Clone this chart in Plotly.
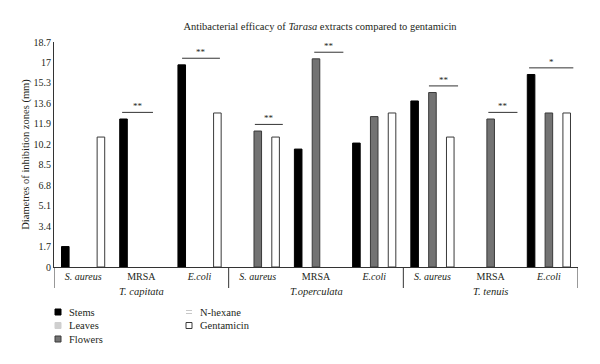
import plotly.graph_objects as go

# ---- data ----
species = ["T. capitata", "T.operculata", "T. tenuis"]
bacteria = ["S. aureus", "MRSA", "E.coli"]
stems = [1.7, 12.3, 16.8, 0, 9.8, 10.3, 13.8, 0, 16.0]
leaves = [0, 0, 0, 0, 0, 0, 0, 0, 0]
flowers = [0, 0, 0, 11.3, 17.3, 12.5, 14.5, 12.3, 12.8]
nhexane = [0, 0, 0, 0, 0, 0, 0, 0, 0]
gentamicin = [10.8, 0, 12.8, 10.8, 0, 12.8, 10.8, 0, 12.8]
sig_labels = ["", "**", "**", "**", "**", "", "**", "**", "*"]
sig_span = [None, (-0.33, 0.2), (-0.3, 0.35), (-0.05, 0.43), (-0.03, 0.47),
            None, (-0.06, 0.44), (-0.04, 0.46), (-0.34, 0.42)]
y_ticks = [0, 1.7, 3.4, 5.1, 6.8, 8.5, 10.2, 11.9, 13.6, 15.3, 17, 18.7]

FONT = "Liberation Serif"
TXT = "#231f20"
W, H = 600, 364
ML, MR, MT, MB = 54, 22, 42, 97
PW, PH = W - ML - MR, H - MT - MB


def px_x(p):
    return (p - ML) / PW


def px_y(p):
    return (H - MB - p) / PH


n = len(species) * len(bacteria)
xs = list(range(n))
tick_text = []
for s in species:
    for b in bacteria:
        tick_text.append(b if b == "MRSA" else f"<i>{b}</i>")

series = [
    ("Stems", stems, "#000000", "#000000"),
    ("Leaves", leaves, "#cfcfcf", "#cfcfcf"),
    ("Flowers", flowers, "#737373", "#3a3a3a"),
    ("N-hexane", nhexane, "#ffffff", "#c8c8c8"),
    ("Gentamicin", gentamicin, "#ffffff", "#3a3a3a"),
]

fig = go.Figure()
for name, vals, fill, line in series:
    fig.add_trace(go.Bar(x=xs, y=[v if v else None for v in vals], name=name,
                         marker=dict(color=fill, line=dict(color=line, width=1)),
                         showlegend=False, hovertemplate=name + ": %{y}<extra></extra>"))

# significance markers
for i, lab in enumerate(sig_labels):
    if not lab:
        continue
    top = max(stems[i], leaves[i], flowers[i], nhexane[i], gentamicin[i]) + 0.55
    x0, x1 = sig_span[i]
    fig.add_shape(type="line", x0=i + x0, x1=i + x1, y0=top, y1=top, xref="x", yref="y",
                  line=dict(color="#333333", width=1))
    fig.add_annotation(x=i + (x0 + x1) / 2, y=top, text=lab, showarrow=False, yanchor="bottom",
                       yshift=-1, font=dict(family=FONT, size=9, color=TXT))

# group dividers and labels
ng = len(bacteria)
for g in range(len(species) + 1):
    xv = g * ng - 0.5
    fig.add_shape(type="line", x0=xv, x1=xv, y0=0, y1=px_y(288), xref="x", yref="paper",
                  line=dict(color="#333333", width=1))
for g, s in enumerate(species):
    fig.add_annotation(x=g * ng + (ng - 1) / 2, y=px_y(291), xref="x", yref="paper", text=f"<i>{s}</i>",
                       showarrow=False, yanchor="middle", font=dict(family=FONT, size=10.5, color=TXT))

# legend (two columns, column-major)
legend_cols = [(58, 67, [0, 1, 2]), (189, 198, [3, 4])]
row_y = [312, 325.5, 339]
half = 3
for sx, tx, idxs in legend_cols:
    for r, k in enumerate(idxs):
        name, vals, fill, line = series[k]
        cy = row_y[r]
        if name == "N-hexane":
            for dy in (-1.5, 1.5):
                fig.add_shape(type="line", xref="paper", yref="paper",
                              x0=px_x(sx - half), x1=px_x(sx + half), y0=px_y(cy + dy), y1=px_y(cy + dy),
                              line=dict(color="#c8c8c8", width=1))
        else:
            fig.add_shape(type="rect", xref="paper", yref="paper",
                          x0=px_x(sx - half), x1=px_x(sx + half), y0=px_y(cy - half), y1=px_y(cy + half),
                          fillcolor=fill, line=dict(color=line, width=1))
        fig.add_annotation(x=px_x(tx), y=px_y(cy), xref="paper", yref="paper", text=name,
                           showarrow=False, xanchor="left", yanchor="middle",
                           font=dict(family=FONT, size=10.5, color=TXT))

fig.update_layout(
    width=W, height=H,
    margin=dict(l=ML, r=MR, t=MT, b=MB, autoexpand=False),
    paper_bgcolor="white", plot_bgcolor="white",
    font=dict(family=FONT, size=10, color=TXT),
    title=dict(text="Antibacterial efficacy of <i>Tarasa</i> extracts compared to gentamicin",
               x=320 / W, xanchor="center", y=1 - 26 / H, yanchor="middle",
               font=dict(family=FONT, size=10.5, color=TXT)),
    barmode="group", bargap=0.235, bargroupgap=0.15,
    showlegend=False,
)
fig.update_xaxes(range=[-0.5, n - 0.5], tickmode="array", tickvals=xs, ticktext=tick_text,
                 showline=True, linecolor="#333333", linewidth=1, ticks="", showgrid=False,
                 zeroline=False, tickfont=dict(family=FONT, size=10, color=TXT))
fig.update_yaxes(range=[0, 18.7], tickmode="array", tickvals=y_ticks, ticktext=[f"{v:g}" for v in y_ticks],
                 showline=True, linecolor="#333333", linewidth=1, ticks="", showgrid=False,
                 zeroline=False, tickfont=dict(family=FONT, size=10, color=TXT),
                 title=dict(text="Diametres of inhibition zones (mm)", font=dict(family=FONT, size=10.5, color=TXT),
                            standoff=1))

fig.write_html("out.html", config={"displayModeBar": False},
               post_script="document.body.style.margin='0';")
